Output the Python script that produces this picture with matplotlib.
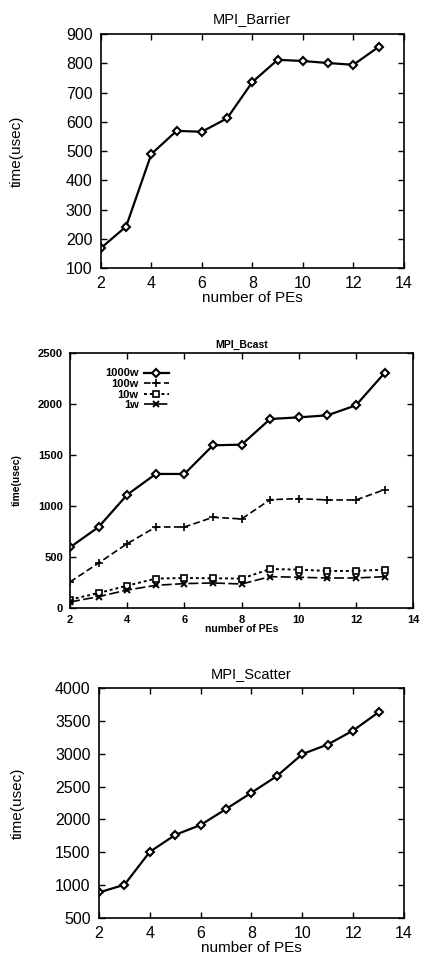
import matplotlib
matplotlib.use("Agg")
import matplotlib.pyplot as plt

plt.rcParams['font.family'] = ['Liberation Sans', 'DejaVu Sans']

pes = [2, 3, 4, 5, 6, 7, 8, 9, 10, 11, 12, 13]

barrier = [168, 242, 490, 569, 566, 612, 736, 812, 808, 801, 795, 856]

bcast_1000w = [595, 794, 1111, 1314, 1314, 1595, 1601, 1853, 1869, 1889, 1987, 2304]
bcast_100w = [255, 441, 631, 794, 794, 889, 873, 1062, 1072, 1059, 1059, 1160]
bcast_10w = [82, 147, 219, 288, 294, 291, 288, 382, 376, 363, 363, 376]
bcast_1w = [59, 111, 176, 222, 239, 245, 235, 307, 301, 294, 294, 307]

scatter = [889, 1006, 1507, 1765, 1916, 2159, 2407, 2660, 2994, 3140, 3353, 3631]

fig = plt.figure(figsize=(4.22, 9.6), dpi=100)


def style(ax, fs, pad):
    ax.tick_params(direction='in', top=True, right=True, length=4, width=1,
                   labelsize=fs, pad=pad)
    for s in ax.spines.values():
        s.set_linewidth(1.2)


# MPI_Barrier
ax1 = fig.add_axes([0.239, 0.7208, 0.718, 0.2437])
ax1.plot(pes, barrier, color='black', lw=1.6, marker='D', ms=4.5,
         mfc='white', mec='black', mew=1.5)
ax1.set_xlim(2, 14)
ax1.set_ylim(100, 900)
ax1.set_xticks(range(2, 15, 2))
ax1.set_yticks(range(100, 901, 100))
style(ax1, 11.5, 6)
ax1.set_title('MPI_Barrier', fontsize=10.5, pad=8)
ax1.set_xlabel('number of PEs', fontsize=11, labelpad=0)
ax1.set_ylabel('time(usec)', fontsize=11, labelpad=30)

# MPI_Bcast
ax2 = fig.add_axes([0.166, 0.3667, 0.813, 0.2656])
ax2.plot(pes, bcast_1000w, color='black', lw=1.6, ls='-', marker='D', ms=4,
         mfc='white', mec='black', mew=1.5, label='1000w')
ax2.plot(pes, bcast_100w, color='black', lw=1.2, ls=(0, (4, 2)), marker='+', ms=6,
         mew=1.2, label='100w')
ax2.plot(pes, bcast_10w, color='black', lw=1.4, ls=(0, (1.5, 1.5)), marker='s', ms=4,
         mfc='white', mec='black', mew=1.2, label='10w')
ax2.plot(pes, bcast_1w, color='black', lw=1.2, ls=(0, (6, 2)), marker='x', ms=4.5,
         mew=1.4, label='1w')
ax2.set_xlim(2, 14)
ax2.set_ylim(0, 2500)
ax2.set_xticks(range(2, 15, 2))
ax2.set_yticks(range(0, 2501, 500))
style(ax2, 8, 5)
for lab in ax2.get_xticklabels() + ax2.get_yticklabels():
    lab.set_fontweight('bold')
ax2.set_title('MPI_Bcast', fontsize=7.5, fontweight='bold', pad=4)
ax2.set_xlabel('number of PEs', fontsize=7.5, fontweight='bold', labelpad=-1)
ax2.set_ylabel('time(usec)', fontsize=7.5, fontweight='bold', labelpad=12)
leg = ax2.legend(loc='upper right', bbox_to_anchor=(0.31, 0.97), frameon=False,
                 markerfirst=False, fontsize=8, handlelength=2.2, handletextpad=0.5,
                 labelspacing=0.05, borderpad=0.2)
for t in leg.get_texts():
    t.set_fontweight('bold')
    t.set_ha('right')

# MPI_Scatter
ax3 = fig.add_axes([0.2346, 0.04375, 0.7227, 0.2396])
ax3.plot(pes, scatter, color='black', lw=1.6, marker='D', ms=4.5,
         mfc='white', mec='black', mew=1.5)
ax3.set_xlim(2, 14)
ax3.set_ylim(500, 4000)
ax3.set_xticks(range(2, 15, 2))
ax3.set_yticks(range(500, 4001, 500))
style(ax3, 11.5, 6)
ax3.set_title('MPI_Scatter', fontsize=10.5, pad=7)
ax3.set_xlabel('number of PEs', fontsize=11, labelpad=0)
ax3.set_ylabel('time(usec)', fontsize=11, labelpad=22)

fig.savefig('out.png', dpi=100)
